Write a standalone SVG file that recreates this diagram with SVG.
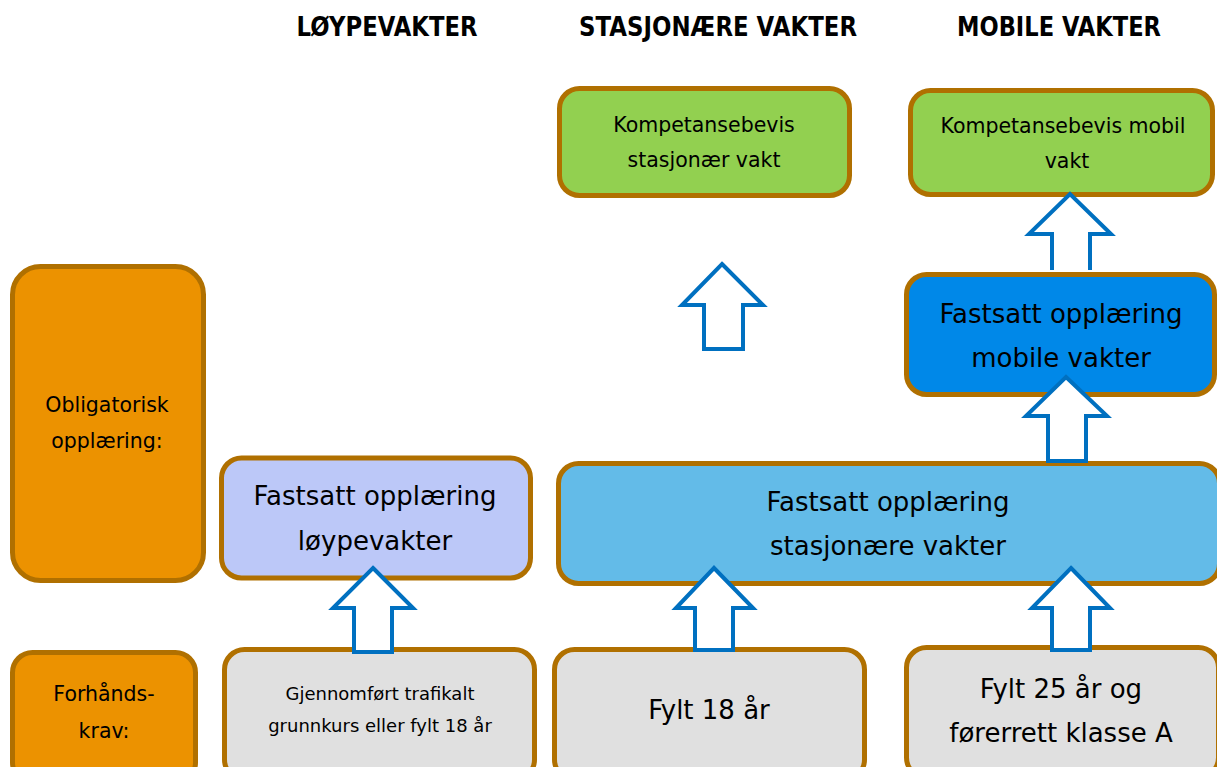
<svg xmlns="http://www.w3.org/2000/svg" width="1217" height="767" viewBox="0 0 1217 767">
<style>
.box{stroke:#B07000;stroke-width:5}
.org{fill:#EC9200}
.grn{fill:#92D050}
.lav{fill:#BCC8F8}
.lbl{fill:#63BBE8}
.mbl{fill:#0088E8}
.gry{fill:#E0E0E0}
.arr{fill:#FFFFFF;stroke:#0070C0;stroke-width:4;stroke-linejoin:miter}
text{font-family:"DejaVu Sans","Liberation Sans",sans-serif;fill:#000;text-anchor:middle}
.hd{font-size:27px;font-weight:bold}
.t18{font-size:20.5px}
.t16{font-size:18px}
.t24{font-size:26px}
</style>
<g id="headers">
<text class="hd" x="387" y="36" textLength="181" lengthAdjust="spacingAndGlyphs">LØYPEVAKTER</text>
<text class="hd" x="718" y="36" textLength="278" lengthAdjust="spacingAndGlyphs">STASJONÆRE VAKTER</text>
<text class="hd" x="1059" y="36" textLength="204" lengthAdjust="spacingAndGlyphs">MOBILE VAKTER</text>
</g>
<g id="n-komp-stasjonaer">
<rect class="box grn" x="559.5" y="88.5" width="290" height="107" rx="20"/>
<text class="t18" x="704" y="132">Kompetansebevis</text>
<text class="t18" x="704" y="167">stasjonær vakt</text>
</g>
<g id="n-komp-mobil">
<rect class="box grn" x="910.5" y="90.5" width="302" height="104" rx="20"/>
<text class="t18" x="1063" y="133">Kompetansebevis mobil</text>
<text class="t18" x="1067" y="168">vakt</text>
</g>
<g id="connectors">
<path class="arr" d="M1052,270 L1052,234 L1029,234 L1070,194 L1111,234 L1090,234 L1090,270"/>
</g>
<g id="n-fastsatt-mobile">
<rect class="box mbl" x="906.5" y="274.5" width="308" height="120" rx="20"/>
<text class="t24" x="1061" y="323">Fastsatt opplæring</text>
<text class="t24" x="1061" y="367">mobile vakter</text>
</g>
<g id="n-obligatorisk">
<rect class="box org" x="12.5" y="266.5" width="191" height="314" rx="28"/>
<text class="t18" x="107" y="412">Obligatorisk</text>
<text class="t18" x="107" y="448">opplæring:</text>
</g>
<g id="n-fastsatt-loype">
<rect class="box lav" x="221.5" y="458" width="309" height="120" rx="20"/>
<text class="t24" x="375" y="505">Fastsatt opplæring</text>
<text class="t24" x="375" y="550">løypevakter</text>
</g>
<g id="n-fastsatt-stasjonaer">
<rect class="box lbl" x="558.5" y="463.5" width="661" height="120" rx="20"/>
<text class="t24" x="888" y="511">Fastsatt opplæring</text>
<text class="t24" x="888" y="555">stasjonære vakter</text>
</g>
<g id="n-forhandskrav">
<rect class="box org" x="12.5" y="652.5" width="183" height="130" rx="20"/>
<text class="t18" x="104" y="701">Forhånds-</text>
<text class="t18" x="104" y="738">krav:</text>
</g>
<g id="n-gjennomfort">
<rect class="box gry" x="224.5" y="649.5" width="310" height="130" rx="20"/>
<text class="t16" x="380" y="700">Gjennomført trafikalt</text>
<text class="t16" x="380" y="732">grunnkurs eller fylt 18 år</text>
</g>
<g id="n-fylt18">
<rect class="box gry" x="554.5" y="649.5" width="310" height="130" rx="20"/>
<text class="t24" x="709" y="719">Fylt 18 år</text>
</g>
<g id="n-fylt25">
<rect class="box gry" x="906.5" y="647.5" width="312" height="130" rx="20"/>
<text class="t24" x="1061" y="698">Fylt 25 år og</text>
<text class="t24" x="1061" y="742">førerrett klasse A</text>
</g>
<g id="connectors-front">
<path class="arr" d="M722,264 L763,305 L743,305 L743,349 L704,349 L704,305 L682,305 Z"/>
<path class="arr" d="M1066,377 L1107,416 L1086,416 L1086,461 L1048,461 L1048,416 L1026,416 Z"/>
<path class="arr" d="M373,568 L413,608 L392,608 L392,652 L354,652 L354,608 L333,608 Z"/>
<path class="arr" d="M714,568 L753,608 L733,608 L733,650 L695,650 L695,608 L676,608 Z"/>
<path class="arr" d="M1071,568 L1110,608 L1090,608 L1090,650 L1052,650 L1052,608 L1032,608 Z"/>
</g>
</svg>
